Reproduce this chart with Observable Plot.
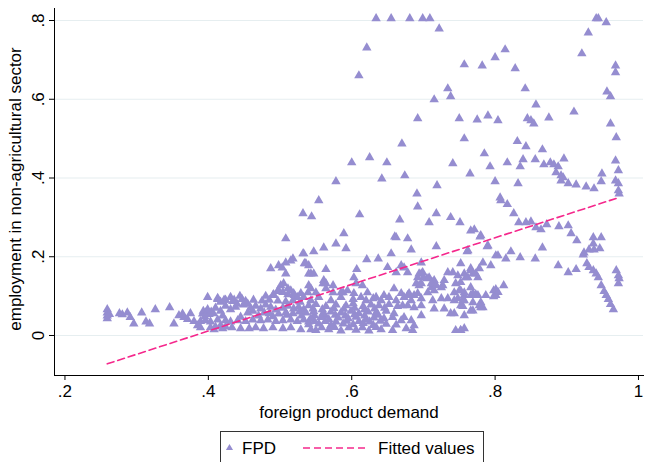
<!DOCTYPE html>
<html><head><meta charset="utf-8">
<script src="https://cdn.jsdelivr.net/npm/d3@7"></script>
<script src="https://cdn.jsdelivr.net/npm/@observablehq/plot@0.6"></script>
<style>
body{margin:0;background:#fff;font-family:"Liberation Sans",Arial,sans-serif;}
#wrap{position:relative;width:648px;height:462px;overflow:hidden;background:#fff;}
#legend{position:absolute;left:220px;top:431px;width:262px;height:30px;border:1px solid #333;background:#fff;}
#legend svg{display:block;}
</style></head>
<body><div id="wrap"><div id="chart"></div><div id="legend"></div></div>
<script>
// Tick values and labels
const xTicks = [0.2, 0.4, 0.6, 0.8, 1];
const xTickLabels = [".2", ".4", ".6", ".8", "1"];
const yTicks = [0, 0.2, 0.4, 0.6, 0.8];
const yTickLabels = ["0", ".2", ".4", ".6", ".8"];
const xLabel = "foreign product demand";
const yLabel = "employment in non-agricultural sector";
const seriesNames = ["FPD", "Fitted values"];

// Fitted values (endpoints of the straight fit line)
const fitX = [0.259, 0.972];
const fitY = [-0.072, 0.350];

// FPD points: [foreign product demand, employment share]
const fpdLeft = [
[0.259,0.066],[0.259,0.058],[0.259,0.050],[0.259,0.043],[0.262,0.054],
[0.276,0.056],[0.280,0.053],[0.287,0.058],[0.291,0.046],[0.296,0.030],
[0.307,0.058],[0.313,0.035],[0.318,0.030],[0.326,0.066],[0.346,0.071],
[0.352,0.030],[0.359,0.051],[0.364,0.055],[0.366,0.046],[0.371,0.041],
[0.375,0.056],[0.380,0.036],[0.385,0.025],[0.389,0.020],[0.392,0.055],
[0.396,0.058],[0.401,0.054],[0.407,0.056],[0.399,0.097],[0.413,0.092],
[0.417,0.085],[0.424,0.090],[0.431,0.097],[0.434,0.087],[0.444,0.100],
[0.440,0.080],[0.403,0.020],[0.410,0.022],[0.417,0.025],[0.424,0.022]
];
const fpdBandA = [
[0.393,0.062],[0.399,0.066],[0.404,0.060],[0.410,0.070],[0.417,0.062],[0.424,0.075],[0.431,0.066],
[0.438,0.072],[0.449,0.078],[0.455,0.080],[0.459,0.070],[0.466,0.075],[0.473,0.068],[0.480,0.078],
[0.487,0.072],[0.494,0.065],[0.504,0.070],[0.511,0.075],[0.519,0.068],[0.526,0.072],[0.533,0.066],
[0.389,0.036],[0.396,0.038],[0.403,0.035],[0.413,0.040],[0.424,0.038],[0.431,0.035],[0.441,0.038],
[0.452,0.036],[0.462,0.040],[0.473,0.038],[0.483,0.040],[0.494,0.036],[0.504,0.038],[0.515,0.040],
[0.524,0.036],[0.533,0.040],[0.540,0.035],
[0.408,0.015],[0.420,0.018],[0.433,0.020],[0.445,0.018],[0.457,0.018],[0.466,0.020],[0.477,0.018],
[0.490,0.020],[0.504,0.018],[0.515,0.020],[0.529,0.015],[0.543,0.015],
[0.395,0.048],[0.420,0.050],[0.445,0.047],[0.470,0.050],[0.490,0.048],[0.510,0.052],[0.530,0.050],
[0.413,0.095],[0.422,0.090],[0.436,0.090],[0.447,0.092],
[0.480,0.100],[0.490,0.102],[0.491,0.104],[0.499,0.112],[0.504,0.110],[0.511,0.104],[0.520,0.102],
[0.524,0.097],[0.533,0.097],
[0.497,0.114],[0.501,0.127],[0.505,0.132],[0.511,0.119],[0.515,0.114],[0.519,0.107],[0.529,0.107],[0.539,0.109],
[0.487,0.170],[0.498,0.178],[0.503,0.172],[0.508,0.185],[0.515,0.190],[0.518,0.195],[0.508,0.157],
[0.533,0.208],[0.534,0.183],[0.540,0.178],[0.543,0.157]
];
const fpdBandFill = [
[0.455,0.058],[0.462,0.062],[0.478,0.058],[0.485,0.056],[0.498,0.055],[0.508,0.058],[0.518,0.056],[0.527,0.060],
[0.452,0.087],[0.463,0.090],[0.475,0.088],[0.485,0.090],[0.497,0.088],[0.508,0.086],[0.518,0.089],[0.528,0.085],
[0.546,0.068],[0.559,0.066],[0.575,0.069],[0.589,0.067],[0.604,0.070],[0.618,0.066],[0.632,0.068],[0.646,0.070],
[0.548,0.051],[0.563,0.050],[0.577,0.052],[0.591,0.050],[0.604,0.053],[0.618,0.050],[0.637,0.052],
[0.548,0.036],[0.563,0.036],[0.578,0.035],[0.593,0.037],[0.610,0.036],[0.625,0.035],[0.640,0.037],
[0.558,0.020],[0.576,0.021],[0.596,0.020],[0.615,0.020],[0.634,0.021]
];
const fpdBandB = [
[0.543,0.089],[0.554,0.097],[0.571,0.089],[0.585,0.097],[0.602,0.092],[0.613,0.097],[0.620,0.089],
[0.630,0.094],[0.641,0.089],[0.652,0.097],[0.662,0.089],
[0.540,0.076],[0.550,0.079],[0.564,0.074],[0.578,0.078],[0.592,0.076],[0.602,0.081],[0.616,0.074],
[0.627,0.078],[0.638,0.076],[0.652,0.079],[0.664,0.074],
[0.536,0.058],[0.547,0.061],[0.560,0.056],[0.571,0.060],[0.585,0.058],[0.599,0.062],[0.610,0.056],
[0.623,0.060],[0.634,0.058],[0.648,0.062],[0.659,0.056],
[0.543,0.043],[0.557,0.046],[0.568,0.041],[0.581,0.045],[0.595,0.043],[0.606,0.047],[0.620,0.041],
[0.631,0.045],[0.645,0.043],[0.657,0.046],
[0.540,0.028],[0.554,0.030],[0.571,0.026],[0.588,0.030],[0.602,0.028],[0.616,0.031],[0.630,0.026],
[0.648,0.029],[0.662,0.027],
[0.550,0.013],[0.568,0.015],[0.585,0.012],[0.606,0.014],[0.624,0.012],[0.641,0.015],[0.657,0.013],
[0.543,0.119],[0.550,0.109],[0.574,0.109],[0.588,0.109],[0.594,0.114],[0.603,0.107],[0.615,0.127],
[0.622,0.109],[0.634,0.097],[0.645,0.102],[0.659,0.119],[0.669,0.107],[0.678,0.102],[0.687,0.102],
[0.694,0.127],[0.711,0.122],[0.715,0.114],[0.725,0.122],[0.743,0.109],[0.757,0.102],[0.766,0.122],
[0.540,0.127],[0.560,0.132],[0.564,0.119],[0.574,0.127],[0.585,0.109]
];
const fpdMid = [
[0.589,0.259],[0.662,0.249],[0.678,0.246],[0.718,0.226],[0.762,0.216],
[0.561,0.223],[0.578,0.233],[0.592,0.221],[0.547,0.213],[0.532,0.208],
[0.621,0.193],[0.637,0.195],[0.655,0.208],[0.683,0.218],[0.697,0.185],[0.536,0.183],[0.752,0.183],
[0.650,0.173],[0.669,0.178],[0.662,0.160],[0.678,0.160],
[0.607,0.168],[0.564,0.168],[0.540,0.157],[0.547,0.157],
[0.603,0.147],[0.606,0.132],[0.561,0.140],[0.564,0.132],
[0.692,0.147],[0.697,0.157],[0.690,0.132],[0.705,0.145],[0.713,0.135],
[0.734,0.160],[0.741,0.160],[0.748,0.152],[0.757,0.157],[0.762,0.147],
[0.766,0.266],[0.780,0.254],[0.790,0.228],[0.804,0.203],[0.673,0.172],
[0.766,0.170],[0.769,0.157],[0.778,0.170],[0.783,0.185],[0.794,0.178],[0.759,0.147],[0.776,0.147],
[0.694,0.157],[0.699,0.160],[0.700,0.147],[0.708,0.147],[0.715,0.140],[0.729,0.140],[0.697,0.132],
[0.711,0.132],[0.718,0.127],[0.727,0.127],[0.745,0.132],[0.752,0.135],[0.750,0.114],[0.757,0.109],
[0.766,0.102],[0.776,0.102],[0.787,0.102],[0.798,0.114],[0.801,0.102],
[0.692,0.107],[0.680,0.107],[0.673,0.097],[0.683,0.089],[0.697,0.094],[0.706,0.109],[0.713,0.089],
[0.725,0.094],[0.734,0.094],[0.743,0.089],[0.748,0.094],[0.757,0.089],[0.769,0.084],[0.780,0.084],
[0.715,0.068],[0.729,0.068],[0.738,0.056],[0.755,0.074],[0.766,0.063],[0.778,0.076],[0.783,0.071],
[0.671,0.076],[0.678,0.076],[0.687,0.071],[0.697,0.076],[0.673,0.046],[0.683,0.038],[0.697,0.051],
[0.743,0.056],[0.687,0.025],[0.676,0.018],[0.685,0.013],[0.745,0.013],[0.752,0.013],[0.757,0.018],
[0.669,0.038],
[0.766,0.165],[0.773,0.157],[0.752,0.114],[0.755,0.089],[0.752,0.076],[0.769,0.107],[0.773,0.104],
[0.798,0.099],[0.801,0.117],[0.812,0.127],[0.780,0.071],[0.769,0.063],[0.757,0.051],[0.752,0.013],
[0.804,0.110]
];
const fpdRight = [
[0.808,0.343],[0.817,0.333],[0.826,0.310],[0.833,0.287],[0.843,0.287],[0.850,0.289],[0.857,0.274],
[0.864,0.269],[0.872,0.282],[0.889,0.277],[0.902,0.279],[0.906,0.259],[0.914,0.241],[0.937,0.249],
[0.948,0.249],[0.937,0.233],[0.931,0.218],[0.938,0.218],[0.946,0.221],[0.924,0.210],[0.923,0.205],
[0.771,0.269],[0.779,0.251],[0.789,0.226],[0.761,0.213],
[0.801,0.203],[0.815,0.195],[0.822,0.213],[0.835,0.198],[0.856,0.195],[0.866,0.223],
[0.888,0.178],[0.902,0.160],[0.913,0.168],[0.928,0.183],[0.931,0.173],[0.937,0.165],[0.941,0.157],
[0.944,0.147],[0.948,0.127],[0.952,0.112],[0.955,0.102],[0.958,0.092],[0.961,0.079],[0.965,0.066],
[0.969,0.165],[0.972,0.152],[0.973,0.145],[0.972,0.132]
];
const fpdHigh = [
[0.634,0.805],[0.655,0.805],[0.681,0.805],[0.699,0.805],[0.709,0.805],[0.722,0.779],[0.621,0.731],[0.610,0.660],
[0.757,0.688],[0.782,0.685],[0.800,0.706],[0.814,0.726],[0.828,0.678],
[0.734,0.627],[0.738,0.607],[0.715,0.599],[0.842,0.627],[0.857,0.586],
[0.692,0.551],[0.750,0.551],[0.775,0.548],[0.790,0.558],[0.804,0.546],[0.845,0.551],[0.850,0.546],
[0.854,0.538],[0.875,0.553],[0.910,0.568],
[0.941,0.805],[0.944,0.805],[0.955,0.795],[0.930,0.769],[0.921,0.716],[0.968,0.685],[0.968,0.668],
[0.956,0.619],[0.961,0.607],[0.961,0.538],
[0.969,0.503],[0.757,0.500],[0.831,0.493],[0.843,0.480],[0.866,0.472],[0.785,0.462],[0.817,0.439],
[0.839,0.447],[0.856,0.447],[0.896,0.449],[0.968,0.444],[0.793,0.429],[0.835,0.429],[0.868,0.434],
[0.877,0.439],[0.882,0.434],[0.888,0.429],[0.885,0.414],[0.892,0.406],[0.895,0.401],[0.892,0.393],
[0.972,0.419],[0.949,0.411],[0.765,0.411],[0.902,0.386],[0.913,0.383],[0.927,0.378],[0.938,0.373],
[0.948,0.391],[0.968,0.393],[0.972,0.386],[0.972,0.368],[0.973,0.360],[0.800,0.391],[0.832,0.386],
[0.807,0.350],
[0.670,0.487],[0.600,0.439],[0.625,0.452],[0.649,0.439],[0.741,0.437],[0.578,0.391],[0.642,0.398],
[0.674,0.406],[0.719,0.381],[0.691,0.360],[0.692,0.327],[0.554,0.343],[0.532,0.310],[0.544,0.302],
[0.611,0.307],[0.667,0.294],[0.708,0.287],[0.718,0.310],[0.738,0.300],[0.751,0.287],[0.660,0.251],
[0.508,0.246]
];

const pointColor = "#958dd0";
const fitColor = "#f5288c";

const points = [...fpdLeft, ...fpdBandA, ...fpdBandFill, ...fpdBandB, ...fpdMid, ...fpdRight, ...fpdHigh]
  .map(([x, y]) => ({x, y}));
const fit = fitX.map((x, i) => ({x, y: fitY[i]}));

const xFmt = d => xTickLabels[xTicks.indexOf(d)];
const yFmt = d => yTickLabels[yTicks.indexOf(d)];

const chart = Plot.plot({
  width: 648, height: 425,
  marginLeft: 54, marginRight: 5, marginTop: 8, marginBottom: 50,
  x: {domain: [0.1854, 1.007]},
  y: {domain: [-0.1016, 0.8305]},
  style: {fontFamily: '"Liberation Sans", Arial, sans-serif', fontSize: "17px", color: "black", background: "white", overflow: "visible"},
  marks: [
    Plot.gridY(yTicks, {stroke: "#e6eef0", strokeOpacity: 1, strokeWidth: 1.2}),
    Plot.dot(points, {x: "x", y: "y", symbol: "triangle", r: 3.5, fill: pointColor, stroke: null}),
    Plot.line(fit, {x: "x", y: "y", stroke: fitColor, strokeWidth: 1.6, strokeDasharray: "7,4"}),
    Plot.frame({anchor: "left", stroke: "black"}),
    Plot.frame({anchor: "bottom", stroke: "black"}),
    Plot.axisX(xTicks, {tickFormat: xFmt, tickSize: 5, tickPadding: 4, label: null, fontSize: 17}),
    Plot.axisY(yTicks, {tickFormat: yFmt, tickSize: 5, tickPadding: 6, tickRotate: -90, label: null, fontSize: 17}),
    Plot.text([xLabel], {frameAnchor: "bottom", dy: 37, textAnchor: "middle", lineAnchor: "middle", fontSize: 17}),
    Plot.text([yLabel], {frameAnchor: "left", dx: -39, dy: -3, rotate: -90, textAnchor: "middle", lineAnchor: "middle", fontSize: 17})
  ]
});
document.getElementById("chart").appendChild(chart);

// Legend below the plot
const ns = "http://www.w3.org/2000/svg";
const lg = document.createElementNS(ns, "svg");
lg.setAttribute("width", 262); lg.setAttribute("height", 30);
lg.style.fontFamily = '"Liberation Sans", Arial, sans-serif';
const sym = document.createElementNS(ns, "path");
sym.setAttribute("d", d3.symbol(d3.symbolTriangle, 22)());
sym.setAttribute("transform", "translate(8.5,16)");
sym.setAttribute("fill", pointColor);
lg.appendChild(sym);
const t1 = document.createElementNS(ns, "text");
t1.setAttribute("x", 21); t1.setAttribute("y", 22); t1.setAttribute("font-size", 17);
t1.textContent = seriesNames[0]; lg.appendChild(t1);
const ln = document.createElementNS(ns, "line");
ln.setAttribute("x1", 82); ln.setAttribute("x2", 146); ln.setAttribute("y1", 16); ln.setAttribute("y2", 16);
ln.setAttribute("stroke", fitColor); ln.setAttribute("stroke-width", 1.5); ln.setAttribute("stroke-dasharray", "7,4");
lg.appendChild(ln);
const t2 = document.createElementNS(ns, "text");
t2.setAttribute("x", 157); t2.setAttribute("y", 22); t2.setAttribute("font-size", 17);
t2.textContent = seriesNames[1]; lg.appendChild(t2);
document.getElementById("legend").appendChild(lg);
</script>
</body></html>
